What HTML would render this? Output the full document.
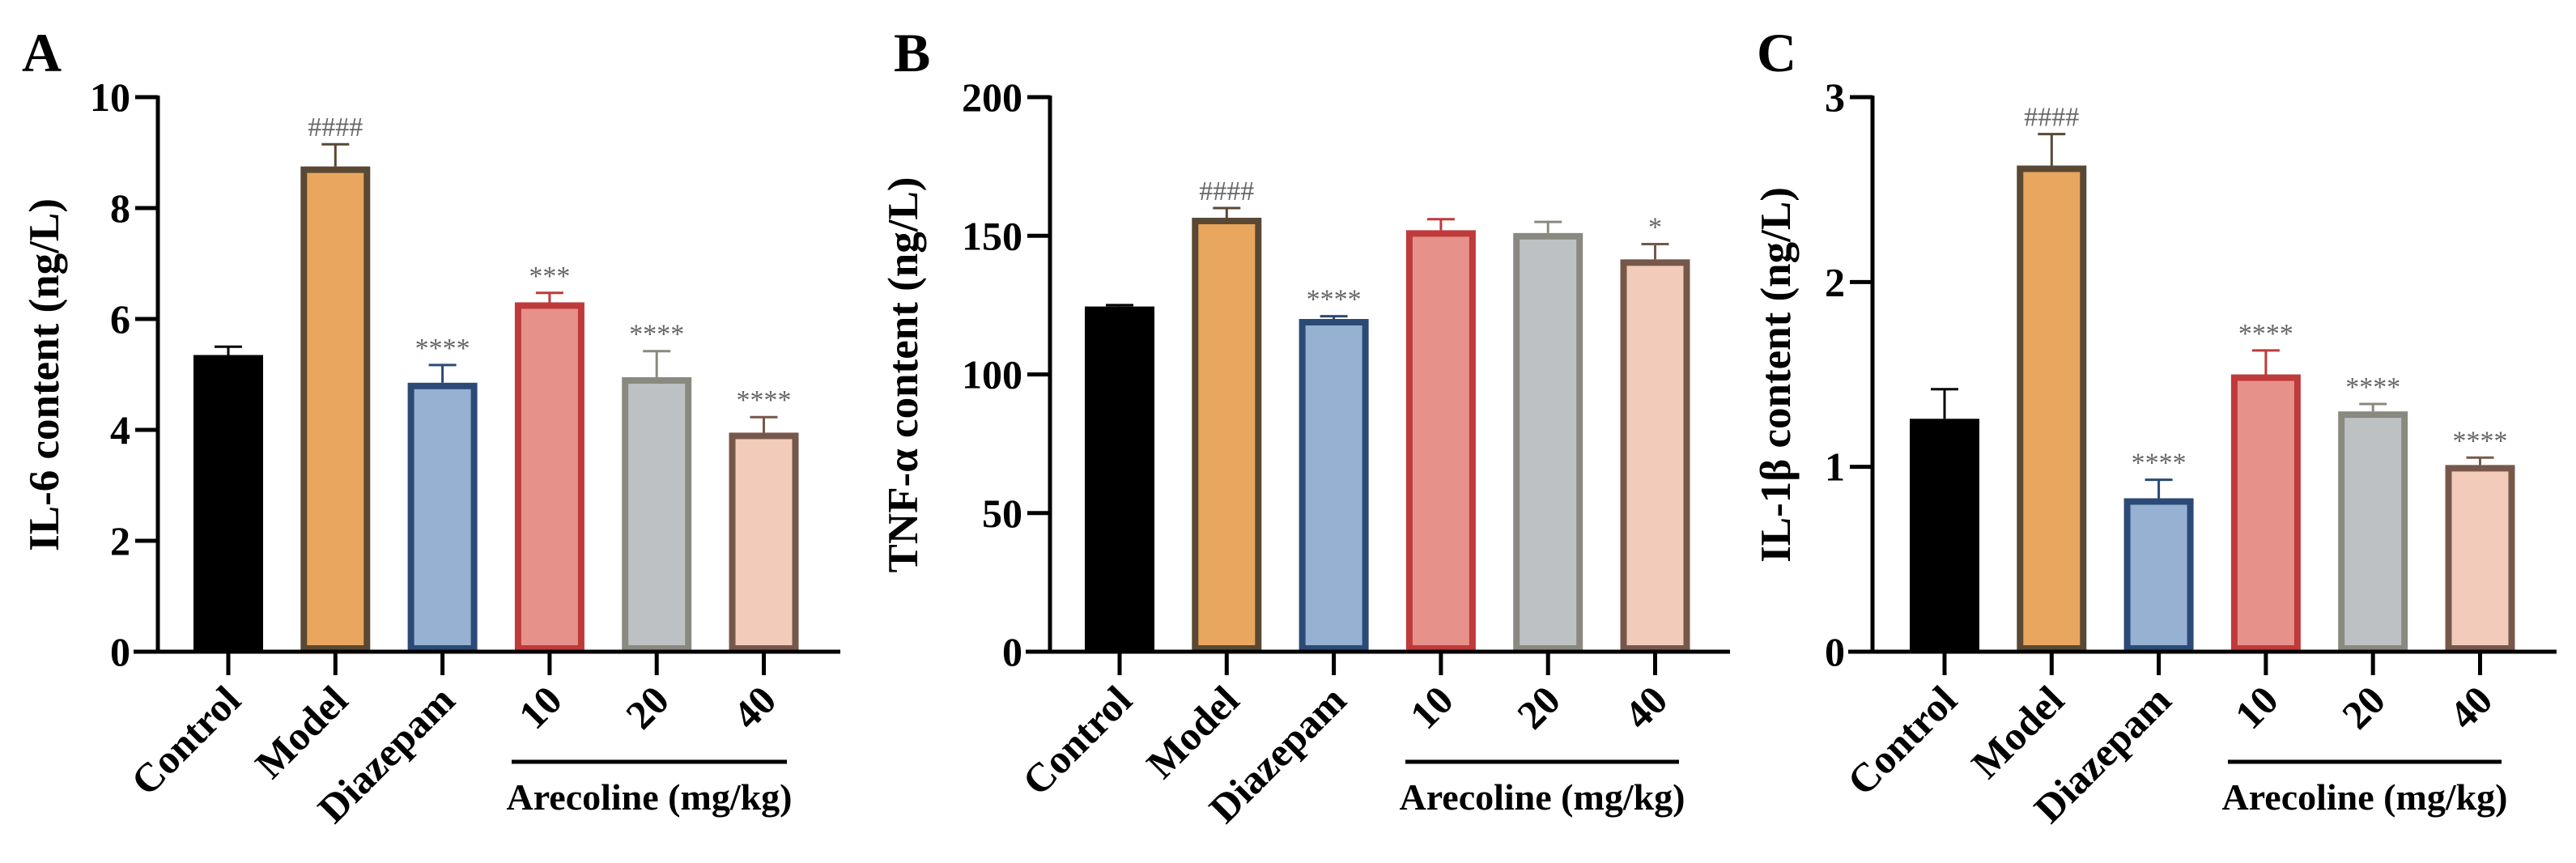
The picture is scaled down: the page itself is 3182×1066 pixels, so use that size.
<!DOCTYPE html>
<html><head><meta charset="utf-8"><style>
html,body{margin:0;padding:0;background:#fff}
svg{display:block}
text{font-family:"Liberation Serif",serif;font-weight:bold}
</style></head><body>
<svg id="fig" width="3182" height="1066" viewBox="0 0 3182 1066"></svg>
<script>
const categories = ["Control","Model","Diazepam","10","20","40"];
const il6Values = [5.35, 8.75, 4.85, 6.3, 4.95, 3.95];
const il6Errors = [0.15, 0.4, 0.32, 0.17, 0.47, 0.28];
const il6Marks = ["", "####", "****", "***", "****", "****"];
const il6Ticks = [0, 2, 4, 6, 8, 10];
const tnfValues = [124.5, 156.5, 120, 152, 151, 141.5];
const tnfErrors = [0.5, 3.5, 1, 4, 4, 5.5];
const tnfMarks = ["", "####", "****", "", "", "*"];
const tnfTicks = [0, 50, 100, 150, 200];
const il1bValues = [1.26, 2.63, 0.83, 1.5, 1.3, 1.01];
const il1bErrors = [0.16, 0.17, 0.1, 0.13, 0.04, 0.04];
const il1bMarks = ["", "####", "****", "****", "****", "****"];
const il1bTicks = [0, 1, 2, 3];

const fills = ["#000000","#e8a65e","#97b1d2","#e6928a","#bdc1c3","#f2cbbb"];
const strokes = ["#000000","#594834","#2b4a75","#bf3a3a","#8a897f","#76584a"];
const NS = "http://www.w3.org/2000/svg";
const svg = document.getElementById("fig");
function mk(tag, attrs, parent){const e=document.createElementNS(NS,tag);for(const k in attrs)e.setAttribute(k,attrs[k]);(parent||svg).appendChild(e);return e;}

function panel(p){
  const g = mk("g",{});
  
  
  const y0=805, yTop=120, max=p.ticks[p.ticks.length-1];
  const ys = v => y0 - (v/max)*(y0-yTop);
  const xs = i => p.x0 + i*132.3;
  const L = mk("text",{x:p.letterX,y:88,"font-size":68},g); L.textContent=p.letter;
  
  
  const t = mk("text",{x:0,y:0,"font-size":53,"text-anchor":"middle",transform:`translate(${p.titleX},463) rotate(-90)`},g);
  t.textContent=p.title;
  
  
  categories.forEach((c,i)=>{
    const x=xs(i), v=p.values[i], top=ys(v), e=ys(v+p.errors[i]);
    const sw = i===0?0:8;
    mk("line",{x1:x,x2:x,y1:top,y2:e,stroke:strokes[i],"stroke-width":3},g);
    mk("line",{x1:x-17,x2:x+17,y1:e,y2:e,stroke:strokes[i],"stroke-width":3},g);
    const r = mk("rect",{x:x-43+sw/2,y:top+sw/2,width:86-sw,height:y0-top-sw,fill:fills[i],stroke:strokes[i],"stroke-width":sw},g);
    
    
    if(p.marks[i]){
      const m = mk("text",{x:x,y:e-10,"font-size":34,"text-anchor":"middle",fill:"#666",style:"font-weight:normal"},g);
      m.textContent=p.marks[i];
      
      
    }
    mk("line",{x1:x,x2:x,y1:y0,y2:834,stroke:"#000","stroke-width":5},g);
    const lb = mk("text",{x:0,y:0,"font-size":50,"text-anchor":"end",transform:`translate(${x+18},${868}) rotate(-45)`},g);
    lb.textContent=c;
    
    
  });
  mk("line",{x1:p.axisX,x2:p.axisX,y1:yTop-2,y2:y0+2,stroke:"#000","stroke-width":5},g);
  mk("line",{x1:p.axisX-30,x2:p.axisEnd,y1:y0,y2:y0,stroke:"#000","stroke-width":5},g);
  p.ticks.forEach(v=>{
    const y=ys(v);
    mk("line",{x1:p.axisX-28,x2:p.axisX,y1:y,y2:y,stroke:"#000","stroke-width":5},g);
    const tl = mk("text",{x:p.axisX-34,y:y+17,"font-size":50,"text-anchor":"end"},g);
    tl.textContent=v;
    
    
  });
  mk("line",{x1:p.brX1,x2:p.brX2,y1:941,y2:941,stroke:"#000","stroke-width":5},g);
  const a = mk("text",{x:(p.brX1+p.brX2)/2,y:1000,"font-size":46,"text-anchor":"middle"},g);
  a.textContent="Arecoline (mg/kg)";
  
  
}
panel({name:"panel-a-il6",letter:"A",letterX:27,title:"IL-6 content (ng/L)",titleX:72,x0:282,axisX:195,axisEnd:1038,ticks:il6Ticks,values:il6Values,errors:il6Errors,marks:il6Marks,brX1:632,brX2:972});
panel({name:"panel-b-tnf",letter:"B",letterX:1104,title:"TNF-α content (ng/L)",titleX:1133,x0:1383,axisX:1297,axisEnd:2137,ticks:tnfTicks,values:tnfValues,errors:tnfErrors,marks:tnfMarks,brX1:1736,brX2:2074});
panel({name:"panel-c-il1b",letter:"C",letterX:2170,title:"IL-1β content (ng/L)",titleX:2211,x0:2402,axisX:2313,axisEnd:3158,ticks:il1bTicks,values:il1bValues,errors:il1bErrors,marks:il1bMarks,brX1:2752,brX2:3090});
</script>
</body></html>
